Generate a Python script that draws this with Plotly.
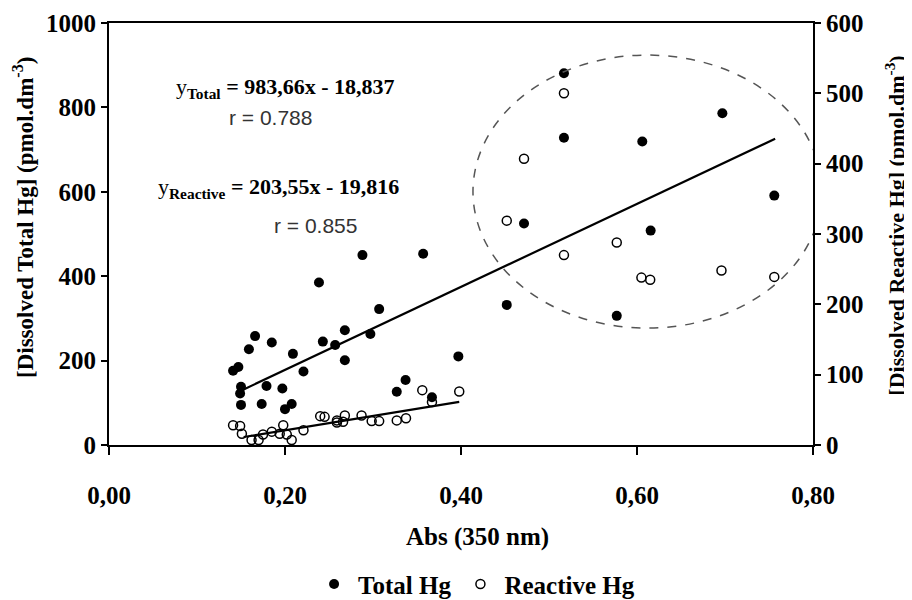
import plotly.graph_objects as go

# ---------------- data ----------------
total_x = [0.2386, 0.166, 0.185, 0.159, 0.209, 0.147, 0.141, 0.221, 0.243, 0.257,
           0.150, 0.149, 0.150, 0.179, 0.197, 0.1735, 0.200, 0.2076,
           0.288, 0.357, 0.307, 0.268, 0.297, 0.268, 0.327, 0.337, 0.367, 0.397,
           0.452, 0.4716, 0.517, 0.517, 0.577, 0.606, 0.6155, 0.697, 0.756]
total_y = [385, 258, 243, 227, 216, 185, 176, 174, 245, 237,
           138, 122, 95, 140, 134, 97, 85, 97,
           450, 453, 322, 272, 263, 201, 126, 154, 113, 210,
           332, 525, 881, 728, 306, 719, 508, 786, 591]

reactive_x = [0.141, 0.149, 0.151, 0.162, 0.170, 0.175, 0.185, 0.194, 0.198, 0.202,
              0.2076, 0.221, 0.240, 0.245, 0.259, 0.259, 0.266, 0.268, 0.287, 0.2985,
              0.307, 0.327, 0.3375, 0.356, 0.367, 0.398,
              0.452, 0.4716, 0.517, 0.517, 0.577, 0.605, 0.615, 0.696, 0.756]
reactive_y = [28, 27, 16, 7, 7, 15, 19, 16, 28, 15,
              7, 21, 41, 40, 32, 35, 33, 42, 42, 34,
              34, 35, 38, 78, 61, 76,
              319, 407, 500, 270, 288, 238, 235, 248, 239]

# regression fits (as printed on the chart)
total_slope, total_intercept = 983.66, -18.837
reactive_slope, reactive_intercept = 203.55, -19.816
total_fit_x = [0.153, 0.757]
reactive_fit_x = [0.153, 0.398]

x_ticks = [0.0, 0.2, 0.4, 0.6, 0.8]
x_ticklabels = ["0,00", "0,20", "0,40", "0,60", "0,80"]
y_ticks = [0, 200, 400, 600, 800, 1000]
y2_ticks = [0, 100, 200, 300, 400, 500, 600]

# ---------------- figure ----------------
SERIF = "Liberation Serif"
fig = go.Figure()

fig.add_trace(go.Scatter(
    x=total_x, y=total_y, mode="markers", name="Total Hg",
    marker=dict(symbol="circle", size=10, color="black"),
))
fig.add_trace(go.Scatter(
    x=reactive_x, y=reactive_y, mode="markers", name="Reactive Hg", yaxis="y2",
    marker=dict(symbol="circle-open", size=9, color="black", line=dict(width=1.5)),
))
fig.add_trace(go.Scatter(
    x=total_fit_x, y=[total_slope * v + total_intercept for v in total_fit_x],
    mode="lines", line=dict(color="black", width=2.2), showlegend=False,
))
fig.add_trace(go.Scatter(
    x=reactive_fit_x, y=[reactive_slope * v + reactive_intercept for v in reactive_fit_x],
    mode="lines", line=dict(color="black", width=2.2), showlegend=False, yaxis="y2",
))

tickfont = dict(family=SERIF, size=25, color="black", weight="bold")

# the page adds an 8px body margin, so margins are reduced by 8px on left/top
fig.update_layout(
    width=912, height=600,
    margin=dict(l=101, r=107, t=15, b=163, autoexpand=False),
    paper_bgcolor="white", plot_bgcolor="white",
    showlegend=True,
    legend=dict(orientation="h", x=0.52, y=-0.33, xanchor="center", yanchor="middle",
                font=dict(family=SERIF, size=25, color="black", weight="bold"),
                itemwidth=38, tracegroupgap=0),
    xaxis=dict(range=[0, 0.8], tickvals=x_ticks, ticktext=x_ticklabels,
               showline=True, linecolor="black", linewidth=2, mirror=True,
               ticks="outside", ticklen=8, tickwidth=2, tickcolor="black",
               showgrid=False, zeroline=False, tickfont=tickfont,
               ticklabelstandoff=19, automargin=False),
    yaxis=dict(range=[0, 1000], tickvals=y_ticks,
               showline=True, linecolor="black", linewidth=2,
               ticks="outside", ticklen=6, tickwidth=2, tickcolor="black",
               showgrid=False, zeroline=False, tickfont=tickfont, automargin=False),
    yaxis2=dict(range=[0, 600], tickvals=y2_ticks, overlaying="y", side="right",
                showline=True, linecolor="black", linewidth=2,
                ticks="outside", ticklen=6, tickwidth=2, tickcolor="black",
                showgrid=False, zeroline=False, tickfont=tickfont, automargin=False),
)

# dashed ellipse around high-absorbance samples
fig.add_shape(type="circle", xref="x", yref="y", x0=0.4136, x1=0.81, y0=277, y1=924,
              line=dict(color="#555555", width=1.5, dash="dash"))

eqfont = dict(family=SERIF, size=22, color="black")
ann = dict(showarrow=False, xanchor="center", yanchor="middle")
fig.add_annotation(x=0.2, y=846, xref="x", yref="y",
                   text="y<sub><b>Total</b></sub> <b>= 983,66x - 18,837</b>", font=eqfont, **ann)
fig.add_annotation(x=0.183, y=775, xref="x", yref="y",
                   text="r = 0.788", font=dict(family="Liberation Sans", size=21, color="#333333"), **ann)
fig.add_annotation(x=0.193, y=609, xref="x", yref="y",
                   text="y<sub><b>Reactive</b></sub> <b>= 203,55x - 19,816</b>", font=eqfont, **ann)
fig.add_annotation(x=0.235, y=521, xref="x", yref="y",
                   text="r = 0.855", font=dict(family="Liberation Sans", size=21, color="#333333"), **ann)

titlefont = dict(family=SERIF, size=23, color="black", weight="bold")
fig.add_annotation(x=-0.1207, y=0.538, xref="paper", yref="paper", textangle=-90,
                   text="[Dissolved Total Hg] (pmol.dm<sup>-3</sup>)", font=titlefont, **ann)
fig.add_annotation(x=1.116, y=0.519, xref="paper", yref="paper", textangle=-90,
                   text="[Dissolved Reactive Hg] (pmol.dm<sup>-3</sup>)",
                   font=dict(family=SERIF, size=22, color="black", weight="bold"), **ann)
fig.add_annotation(x=0.523, y=-0.218, xref="paper", yref="paper",
                   text="Abs (350 nm)", font=dict(family=SERIF, size=25, color="black", weight="bold"), **ann)

fig.write_html("out.html")
